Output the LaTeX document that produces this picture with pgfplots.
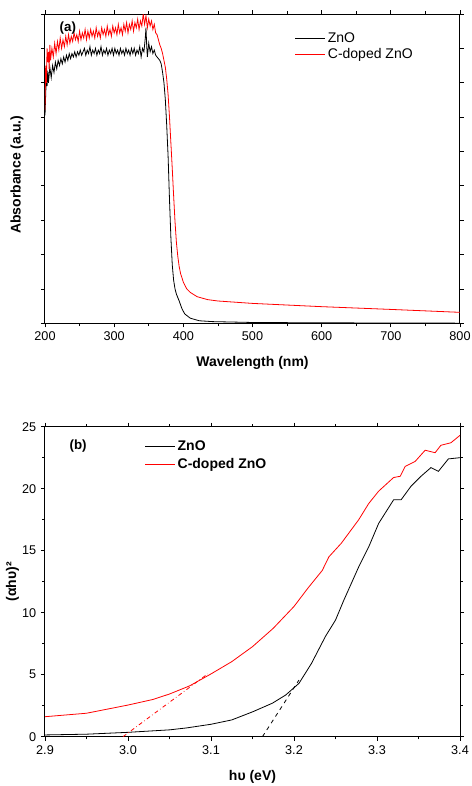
\documentclass[border=0pt]{standalone}
\usepackage{fontspec}
\setmainfont{Liberation Sans}
\usepackage{pgfplots}
\pgfplotsset{compat=1.18}

\pgfplotsset{
  every axis/.append style={
    font=\fontsize{10.5}{12.6}\selectfont,
    tick label style={font=\fontsize{9.5}{11}\selectfont},
    scale only axis, width=311.25pt,
    axis line style={line width=0.75pt},
    tick align=outside, major tick length=3pt, minor tick length=2pt,
    every tick/.style={black, line width=0.6pt},
    /pgf/number format/assume math mode=true,
    legend cell align=left,
    legend image code/.code={\draw[#1] (0pt,0pt) -- (22pt,0pt);},
  },
}

\begin{document}
\begin{tikzpicture}
% (a) absorbance spectra
\begin{axis}[
  name=a, height=232pt,
  xmin=200, xmax=800, ymin=0, ymax=1.8,
  xtick distance=100, minor x tick num=1,
  ytick distance=0.2, yticklabels={},
  xlabel={\bfseries Wavelength (nm)},
  xlabel style={at={(rel axis cs:0.5,0)}, anchor=base, yshift=-32.5pt},
  ylabel={\bfseries Absorbance (a.u.)},
  ylabel style={at={([xshift=-12.5pt]rel axis cs:0,0.48)}, anchor=south},
  legend style={draw=none, fill=none, at={(rel axis cs:0.602,0.95)}, anchor=north west,
    inner sep=0pt, row sep=-1pt},
]
\addplot[black, line width=0.6pt] coordinates {
(200,1.21) (201,1.33) (202,1.45) (203,1.38) (204,1.47) (205,1.40) (207,1.49) (209,1.43)
(211,1.50) (213,1.46) (215,1.52) (217,1.48) (219,1.53) (221,1.50) (223,1.54) (225,1.51)
(227,1.55) (229,1.52) (231,1.56) (233,1.53) (235,1.57) (237,1.54) (239,1.57) (241,1.55)
(243,1.58) (245,1.55) (247,1.58) (249,1.56) (251,1.59) (253,1.56) (255,1.58) (257,1.60)
(259,1.56) (261,1.59) (263,1.57) (265,1.61) (267,1.56) (269,1.59) (271,1.57) (273,1.60)
(275,1.56) (277,1.59) (279,1.57) (281,1.61) (283,1.56) (285,1.59) (287,1.57) (289,1.60)
(291,1.56) (293,1.59) (295,1.57) (297,1.60) (299,1.56) (301,1.60) (303,1.57) (305,1.59)
(307,1.56) (309,1.60) (311,1.57) (313,1.59) (315,1.56) (317,1.60) (319,1.57) (321,1.59)
(323,1.56) (325,1.60) (327,1.57) (329,1.60) (331,1.56) (333,1.59) (335,1.57) (337,1.61)
(339,1.55) (341,1.60) (343,1.58) (345,1.66) (346,1.72) (347,1.62) (348,1.55) (350,1.63)
(352,1.58) (354,1.61) (356,1.57) (358,1.59) (360,1.56) (362,1.55) (364,1.54) (366,1.53)
(368,1.51) (370,1.46) (372,1.40) (374,1.30) (376,1.15) (378,0.97) (380,0.72) (382,0.50)
(384,0.34) (386,0.25) (388,0.20) (390,0.17) (394,0.13) (398,0.085) (402,0.055) (410,0.03)
(423,0.015) (442,0.01) (500,0.005) (600,0.003) (800,0.001)
};
\addlegendentry{ZnO}
\addplot[red, line width=0.6pt] coordinates {
(200,1.24) (201,1.50) (202,1.40) (203,1.60) (204,1.52) (205,1.58) (206,1.48) (207,1.62)
(208,1.53) (210,1.60) (212,1.55) (214,1.63) (216,1.57) (218,1.64) (220,1.59) (222,1.66)
(224,1.60) (226,1.65) (228,1.61) (230,1.67) (232,1.62) (234,1.68) (236,1.63) (238,1.67)
(240,1.64) (242,1.69) (244,1.65) (246,1.68) (248,1.64) (250,1.70) (252,1.65) (254,1.69)
(256,1.66) (258,1.71) (260,1.65) (262,1.70) (264,1.66) (266,1.71) (268,1.67) (270,1.70)
(272,1.66) (274,1.72) (276,1.67) (278,1.70) (280,1.66) (282,1.72) (284,1.68) (286,1.71)
(288,1.67) (290,1.73) (292,1.68) (294,1.71) (296,1.67) (298,1.73) (300,1.69) (302,1.72)
(304,1.68) (306,1.74) (308,1.69) (310,1.72) (312,1.68) (314,1.74) (316,1.70) (318,1.75)
(320,1.69) (322,1.74) (324,1.71) (326,1.76) (328,1.70) (330,1.75) (332,1.72) (334,1.77)
(336,1.71) (338,1.76) (340,1.73) (342,1.80) (344,1.74) (346,1.79) (348,1.72) (350,1.77)
(352,1.73) (354,1.76) (356,1.71) (358,1.74) (360,1.69) (362,1.68) (364,1.65) (366,1.62)
(368,1.60) (370,1.57) (372,1.53) (374,1.49) (376,1.42) (378,1.33) (380,1.20) (382,1.05)
(384,0.90) (386,0.74) (388,0.59) (390,0.47) (392,0.39) (394,0.33) (396,0.29) (400,0.24)
(405,0.20) (410,0.18) (420,0.155) (435,0.138) (450,0.13) (500,0.116) (600,0.097)
(700,0.081) (800,0.064)
};
\addlegendentry{C-doped ZnO}
\node[anchor=west, font=\bfseries] at (rel axis cs:0.024,0.953) {(a)};
\end{axis}

% (b) Tauc plot
\begin{axis}[
  name=b, at={(0,-310pt)}, height=232.5pt,
  xmin=2.9, xmax=3.4, ymin=0, ymax=25,
  xtick distance=0.1, minor x tick num=1,
  ytick distance=5, minor y tick num=1,
  xticklabel style={/pgf/number format/.cd, fixed, fixed zerofill, precision=1},
  xlabel={\bfseries hυ (eV)},
  xlabel style={at={(rel axis cs:0.5,0)}, anchor=base, yshift=-32.5pt},
  ylabel={\bfseries (αhυ)²},
  ylabel style={overlay, at={([xshift=-16pt]rel axis cs:0,0.5)}, anchor=south},
  legend style={draw=none, fill=none, at={(rel axis cs:0.24,0.964)}, anchor=north west,
    inner sep=0pt, row sep=0pt, font=\fontsize{10.5}{12.6}\selectfont\bfseries},
]
\addplot[black, line width=0.6pt] coordinates {
(2.90,0.14) (2.95,0.20) (3.00,0.35) (3.05,0.55) (3.07,0.70) (3.086,0.86) (3.10,1.0)
(3.125,1.35) (3.15,2.0) (3.174,2.7) (3.19,3.36) (3.206,4.3) (3.221,5.9) (3.238,8.1)
(3.25,9.4) (3.26,11.0) (3.278,13.7) (3.29,15.3) (3.302,17.2) (3.32,19.1) (3.329,19.1)
(3.341,20.2) (3.353,21.0) (3.365,21.7) (3.374,21.4) (3.386,22.4) (3.40,22.5)
};
\addlegendentry{ZnO}
\addplot[red, line width=0.6pt] coordinates {
(2.90,1.61) (2.95,1.89) (3.00,2.55) (3.03,3.0) (3.05,3.44) (3.074,4.09) (3.10,5.06)
(3.125,6.05) (3.15,7.26) (3.175,8.74) (3.20,10.5) (3.217,12.0) (3.234,13.4) (3.242,14.5)
(3.257,15.6) (3.278,17.5) (3.29,18.8) (3.302,19.8) (3.32,20.9) (3.328,21.0)
(3.334,21.8) (3.346,22.2) (3.358,23.1) (3.37,22.9) (3.377,23.5) (3.389,23.7) (3.40,24.3)
};
\addlegendentry{C-doped ZnO}
\addplot[black, dashed, line width=0.6pt, forget plot] coordinates {(3.162,0) (3.206,4.57)};
\addplot[red, dash dot, line width=0.6pt, forget plot] coordinates {(2.994,0) (3.096,5.06)};
\node[anchor=west, font=\bfseries] at (rel axis cs:0.048,0.939) {(b)};
\end{axis}
\pgfresetboundingbox
\path[use as bounding box] ([shift={(-33.75pt,-37pt)}]b.south west) rectangle ([shift={(9pt,10.5pt)}]a.north east);
\end{tikzpicture}
\end{document}
